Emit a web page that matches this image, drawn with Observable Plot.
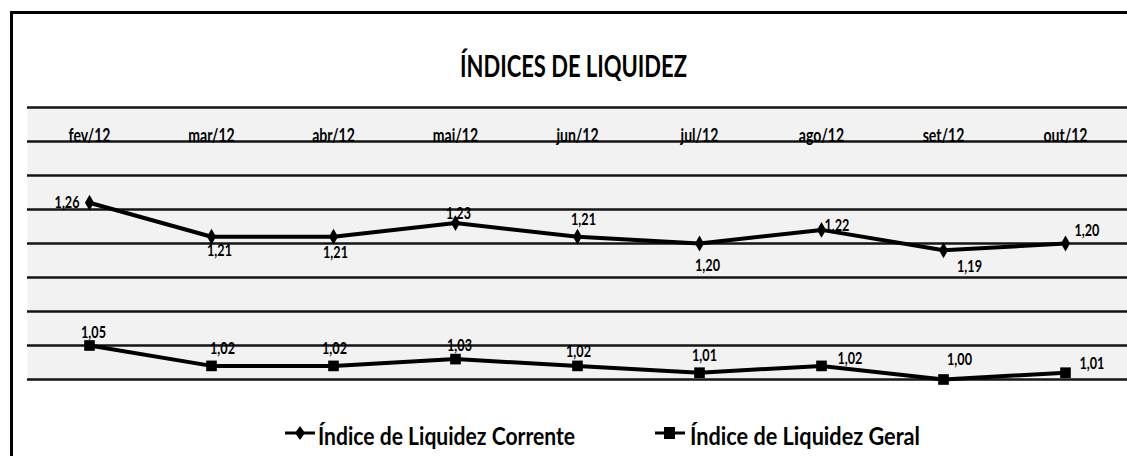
<!DOCTYPE html>
<html><head><meta charset="utf-8">
<script src="https://cdn.jsdelivr.net/npm/d3@7"></script>
<script src="https://cdn.jsdelivr.net/npm/@observablehq/plot@0.6"></script>
<style>
body{margin:0;background:#fff;}
#wrap{position:relative;width:1127px;height:456px;overflow:hidden;font-family:Lato,"Open Sans",sans-serif;background:#fff;}
#title{position:absolute;left:0;top:0;width:1127px;height:100px;}
#chart{position:absolute;left:0;top:100px;width:1127px;height:300px;}
#legend{position:absolute;left:0;top:400px;width:1127px;height:56px;}
#border{position:absolute;left:10px;top:11px;width:2000px;height:1000px;border-left:3px solid #000;border-top:3px solid #000;pointer-events:none;}
svg text{font-family:Lato,"Open Sans",sans-serif;}
</style></head><body>
<div id="wrap">
  <div id="title"></div>
  <div id="chart"></div>
  <div id="legend"></div>
  <div id="border"></div>
</div>
<script>
// ---- data ----
const months = ["fev/12","mar/12","abr/12","mai/12","jun/12","jul/12","ago/12","set/12","out/12"];
const corrente = [1.26,1.21,1.21,1.23,1.21,1.20,1.22,1.19,1.20];
const geral = [1.05,1.02,1.02,1.03,1.02,1.01,1.02,1.00,1.01];
const yGrid = [1.00,1.05,1.10,1.15,1.20,1.25,1.30,1.35,1.40];
const titleText = "ÍNDICES DE LIQUIDEZ";
const seriesNames = ["Índice de Liquidez Corrente","Índice de Liquidez Geral"];

// ---- label placement (layout only) ----
const offCorrente = [[-10,0,"end"],[8,14,"middle"],[2,16,"middle"],[3,-10,"middle"],[6,-17,"middle"],[8,22,"middle"],[3,-5,"start"],[26,16,"middle"],[9,-13,"start"]];
const offGeral = [[4,-13,"middle"],[11,-18,"middle"],[1,-18,"middle"],[4,-14,"middle"],[1,-15,"middle"],[5,-17,"middle"],[16,-8,"start"],[16,-20,"middle"],[14,-9,"start"]];

const fmt = v => v.toFixed(2).replace(".", ",");
const idx = months.map((_, i) => i);

function labelMarks(vals, offs) {
  return vals.map((v, i) => Plot.text([i], {
    x: j => months[j], y: j => vals[j], text: j => fmt(vals[j]),
    dx: offs[i][0], dy: offs[i][1], textAnchor: offs[i][2],
    fontWeight: "bold", fontSize: 17.5, fill: "#000"
  }));
}

const chart = Plot.plot({
  width: 1127, height: 300,
  marginTop: 7, marginBottom: 21, marginLeft: 27, marginRight: 0,
  style: {background: "transparent", fontFamily: "Lato, sans-serif", color: "#000"},
  x: {type: "point", domain: months, padding: 0.5, axis: null},
  y: {domain: [1.00, 1.40], axis: null},
  marks: [
    Plot.frame({fill: "#f2f2f2", stroke: "none"}),
    Plot.ruleY(yGrid, {stroke: "#141414", strokeWidth: 2.5}),
    Plot.text(months, {x: d => d, frameAnchor: "top", lineAnchor: "bottom", dy: 34, fontWeight: "bold", fontSize: 19.5, fill: "#000"}),
    Plot.line(idx, {x: i => months[i], y: i => corrente[i], stroke: "#000", strokeWidth: 4}),
    Plot.dot(idx, {x: i => months[i], y: i => corrente[i], symbol: "diamond", r: 4.8, fill: "#000", stroke: "none"}),
    Plot.line(idx, {x: i => months[i], y: i => geral[i], stroke: "#000", strokeWidth: 4}),
    Plot.dot(idx, {x: i => months[i], y: i => geral[i], symbol: "square", r: 6, fill: "#000", stroke: "none"}),
    ...labelMarks(corrente, offCorrente),
    ...labelMarks(geral, offGeral)
  ]
});
document.getElementById("chart").appendChild(chart);

// condense text like the narrow original typeface
chart.querySelectorAll("text").forEach(t => {
  const L = t.getComputedTextLength();
  if (L > 0) {
    t.setAttribute("textLength", (L * 0.72).toFixed(1));
    t.setAttribute("lengthAdjust", "spacingAndGlyphs");
  }
});

// title
document.getElementById("title").innerHTML =
  `<svg width="1127" height="100"><text x="460" y="77" font-size="30" font-weight="bold" fill="#000" textLength="227" lengthAdjust="spacingAndGlyphs">${titleText}</text></svg>`;

// legend
document.getElementById("legend").innerHTML =
  `<svg width="1127" height="56">
    <line x1="285" x2="315" y1="33" y2="33" stroke="#000" stroke-width="3"/>
    <path d="M300,26 L305,33 L300,40 L295,33 Z" fill="#000"/>
    <text x="318" y="45" font-size="24" font-weight="bold" fill="#000" textLength="257" lengthAdjust="spacingAndGlyphs">${seriesNames[0]}</text>
    <line x1="655" x2="685" y1="33" y2="33" stroke="#000" stroke-width="3"/>
    <rect x="664" y="27" width="11" height="12" fill="#000"/>
    <text x="690" y="45" font-size="24" font-weight="bold" fill="#000" textLength="230" lengthAdjust="spacingAndGlyphs">${seriesNames[1]}</text>
  </svg>`;
</script>
</body></html>
